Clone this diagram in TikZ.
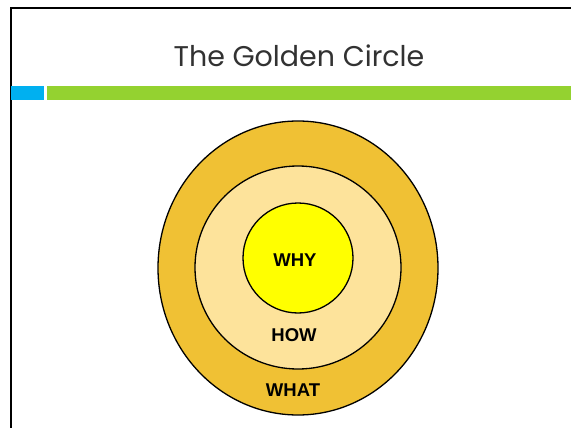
\documentclass[tikz,border=0pt]{standalone}
\usepackage{fontspec}
\setmainfont{Liberation Sans}
\newfontfamily\titlefont{Poppins}
\definecolor{outerc}{RGB}{240,193,52}
\definecolor{midc}{RGB}{253,227,155}
\definecolor{innerc}{RGB}{255,255,0}
\definecolor{bluebar}{RGB}{0,176,240}
\definecolor{greenbar}{RGB}{148,210,48}
\definecolor{titlec}{RGB}{50,50,50}
\tikzset{
  ring/.style={draw=black, line width=1.3pt},
  lbl/.style={font=\bfseries\fontsize{18.5}{22}\selectfont, text=black},
}
\begin{document}
\begin{tikzpicture}[x=1pt,y=-1pt]
\useasboundingbox (0,0) rectangle (571,428);
\fill[white] (0,0) rectangle (571,428);
% frame
\draw[line width=2.4pt] (11,428) -- (11,8) -- (571,8);
% bars
\fill[bluebar] (11,86) rectangle (44,100);
\fill[greenbar] (47,86) rectangle (571,100);
% title
\node[text=titlec, font=\titlefont\fontsize{28.5}{32}\selectfont] (title) at (299,56) {The Golden Circle};
% circles
\draw[ring, fill=outerc] (298,268) ellipse [x radius=140, y radius=147];
\draw[ring, fill=midc] (298,267.5) ellipse [x radius=103, y radius=101.5];
\draw[ring, fill=innerc] (298,258) circle [radius=55];
\node[lbl] (why) at (295,260) {WHY};
\node[lbl] (how) at (294,335) {HOW};
\node[lbl] (what) at (293,390) {WHAT};
\end{tikzpicture}
\end{document}
